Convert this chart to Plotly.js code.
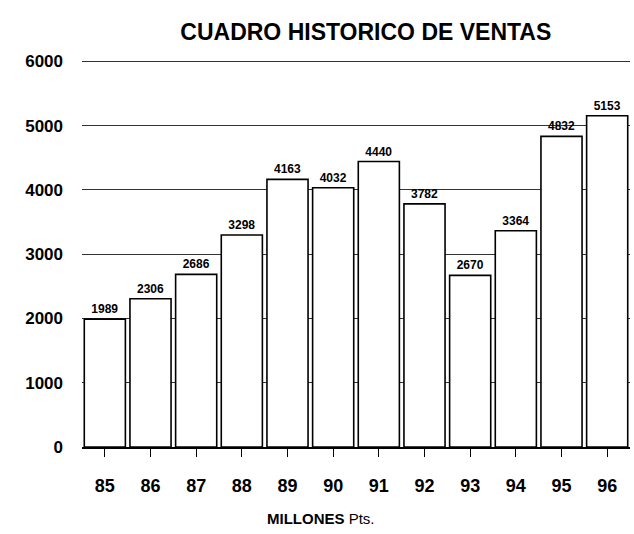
<!DOCTYPE html>
<html>
<head>
<meta charset="utf-8">
<script src="https://cdn.plot.ly/plotly-3.0.1.min.js"></script>
<style>
  body { margin: 0; background: #fff; }
  #chart { width: 634px; height: 534px; }
</style>
</head>
<body>
<div id="chart"></div>
<script>
// Ventas por año (millones de pts.)
const years = ["85", "86", "87", "88", "89", "90", "91", "92", "93", "94", "95", "96"];
const ventas = [1989, 2306, 2686, 3298, 4163, 4032, 4440, 3782, 2670, 3364, 4832, 5153];
const yTicks = [0, 1000, 2000, 3000, 4000, 5000, 6000];

Plotly.newPlot("chart", [{
    x: years,
    y: ventas,
    type: "bar",
    width: 0.9,
    text: ventas.map(String),
    textposition: "outside",
    cliponaxis: false,
    textfont: { family: "Liberation Sans Narrow, Liberation Sans", size: 12, color: "#000", weight: "bold" },
    marker: { color: "#fff", line: { color: "#000", width: 1.6 } },
    hoverinfo: "none"
}], {
    width: 634,
    height: 534,
    margin: { l: 82, r: 4, t: 60, b: 87 },
    paper_bgcolor: "#fff",
    plot_bgcolor: "#fff",
    showlegend: false,
    title: {
        text: "<b>CUADRO HISTORICO DE VENTAS</b>",
        font: { family: "Liberation Sans", size: 23, color: "#000" },
        x: 0.577, xanchor: "center", y: 0.955
    },
    xaxis: {
        type: "category",
        range: [-0.5, 11.5],
        showgrid: false,
        showline: true,
        linecolor: "#000",
        linewidth: 1.5,
        ticks: "outside",
        ticklen: 8,
        tickcolor: "#000",
        ticklabelstandoff: 14,
        tickfont: { family: "Liberation Sans", size: 18, color: "#000", weight: "bold" }
    },
    yaxis: {
        range: [0, 6020],
        tickvals: yTicks,
        ticktext: yTicks.map(String),
        showgrid: true,
        gridcolor: "#333",
        gridwidth: 1,
        zeroline: false,
        showline: false,
        ticks: "",
        ticklabelstandoff: 18,
        tickfont: { family: "Liberation Sans", size: 17, color: "#000", weight: "bold" }
    },
    annotations: [{
        text: "<b>MILLONES</b> Pts.",
        xref: "paper", yref: "paper",
        x: 0.436, y: -0.186,
        xanchor: "center", yanchor: "middle",
        showarrow: false,
        font: { family: "Liberation Sans", size: 15, color: "#000" }
    }],
    bargap: 0.1
}, { displayModeBar: false, staticPlot: true });
</script>
</body>
</html>
